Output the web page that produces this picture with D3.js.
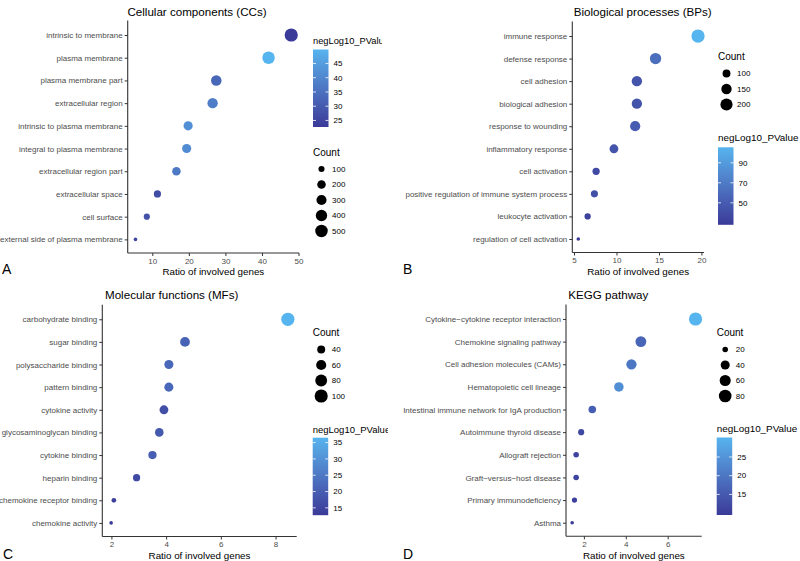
<!DOCTYPE html>
<html><head><meta charset="utf-8">
<script src="https://cdn.jsdelivr.net/npm/d3@7"></script>
<style>body{margin:0;background:#fff}svg{display:block;font-family:"Liberation Sans",Arial,sans-serif}</style>
</head><body><svg id="c" width="800" height="561"></svg>
<script>
// ---------- DATA ----------
const ccTerms = ["intrinsic to membrane","plasma membrane","plasma membrane part","extracellular region","intrinsic to plasma membrane","integral to plasma membrane","extracellular region part","extracellular space","cell surface","external side of plasma membrane"];
const ccRatio = [48.0,41.8,27.5,26.5,19.8,19.4,16.6,11.4,8.5,5.4];
const ccCount = [576,502,330,318,238,233,199,137,102,65];
const ccLogP  = [22.7,49.9,33,38,42,41,37,27,28,25];
const ccXTicks = [10,20,30,40,50];
const ccSizeBreaks = [100,200,300,400,500];
const ccColorBreaks = [25,30,35,40,45];

const bpTerms = ["immune response","defense response","cell adhesion","biological adhesion","response to wounding","inflammatory response","cell activation","positive regulation of immune system process","leukocyte activation","regulation of cell activation"];
const bpRatio = [19.6,14.6,12.4,12.4,12.2,9.7,7.6,7.4,6.6,5.5];
const bpCount = [235,175,149,149,146,116,91,89,79,66];
const bpLogP  = [105.5,62,45,45,50,45,38,42,33,28];
const bpXTicks = [5,10,15,20];
const bpSizeBreaks = [100,150,200];
const bpColorBreaks = [50,70,90];

const mfTerms = ["carbohydrate binding","sugar binding","polysaccharide binding","pattern binding","cytokine activity","glycosaminoglycan binding","cytokine binding","heparin binding","chemokine receptor binding","chemokine activity"];
const mfRatio = [8.45,4.69,4.10,4.10,3.92,3.75,3.50,2.92,2.09,1.99];
const mfCount = [101,56,49,49,47,45,42,35,25,24];
const mfLogP  = [36.5,21,22,22,17,19,20,16,14,12.75];
const mfXTicks = [2,4,6,8];
const mfSizeBreaks = [40,60,80,100];
const mfColorBreaks = [15,20,25,30,35];

const keggTerms = ["Cytokine\u2212cytokine receptor interaction","Chemokine signaling pathway","Cell adhesion molecules (CAMs)","Hematopoietic cell lineage","Intestinal immune network for IgA production","Autoimmune thyroid disease","Allograft rejection","Graft\u2212versus\u2212host disease","Primary immunodeficiency","Asthma"];
const keggRatio = [7.33,4.72,4.27,3.67,2.40,1.87,1.63,1.63,1.55,1.44];
const keggCount = [88,57,51,44,29,22,20,20,19,17];
const keggLogP  = [30.2,17,20,24,16,12,11,11,10.5,9.5];
const keggXTicks = [2,4,6];
const keggSizeBreaks = [20,40,60,80];
const keggColorBreaks = [15,20,25];

const titles = ["Cellular components (CCs)","Biological processes (BPs)","Molecular functions (MFs)","KEGG pathway"];
const letters = ["A","B","C","D"];
const xTitle = "Ratio of involved genes";
const colorTitle = "negLog10_PValue";
const sizeTitle = "Count";

// ---------- STYLE / LAYOUT ----------
const LOW = "#3A3A98", HIGH = "#56B4EE";
const RMIN = 1.8, RMAX = 6.6;
const svg = d3.select("#c");
const defs = svg.append("defs");

const panels = [
  {terms:ccTerms, ratio:ccRatio, count:ccCount, logp:ccLogP, xt:ccXTicks, sb:ccSizeBreaks, cb:ccColorBreaks,
   box:[0,0,382,280], x:[127.7,299], y:[21.4,253], title:[197,15.5], letter:[2,274], xty:274.5,
   lx:313, ctFont:9.3, colTitleY:44, barTop:49.5, sizeTitleY:155.5},
  {terms:bpTerms, ratio:bpRatio, count:bpCount, logp:bpLogP, xt:bpXTicks, sb:bpSizeBreaks, cb:bpColorBreaks,
   box:[400,0,400,280], x:[572.3,704], y:[22.5,252.5], title:[642.7,15.5], letter:[403,274], xty:274.5,
   lx:718, ctFont:9.9, colTitleY:141, barTop:147.3, sizeTitleY:60},
  {terms:mfTerms, ratio:mfRatio, count:mfCount, logp:mfLogP, xt:mfXTicks, sb:mfSizeBreaks, cb:mfColorBreaks,
   box:[0,280,388,281], x:[102.3,296.7], y:[305.7,536.5], title:[171.7,298.5], letter:[3,559], xty:558.5,
   lx:312.7, ctFont:9.5, colTitleY:432.5, barTop:437.7, sizeTitleY:336},
  {terms:keggTerms, ratio:keggRatio, count:keggCount, logp:keggLogP, xt:keggXTicks, sb:keggSizeBreaks, cb:keggColorBreaks,
   box:[400,280,400,281], x:[566,701.7], y:[305.4,536.3], title:[608.3,298.5], letter:[403,559], xty:558.5,
   lx:716.7, ctFont:9.9, colTitleY:431.5, barTop:437.5, sizeTitleY:336}
];

panels.forEach((p,i)=>{
  const cid = "clip"+i;
  defs.append("clipPath").attr("id",cid).append("rect")
    .attr("x",p.box[0]).attr("y",p.box[1]).attr("width",p.box[2]).attr("height",p.box[3]);
  const g = svg.append("g").attr("clip-path",`url(#${cid})`);

  const [rmin,rmax] = d3.extent(p.ratio);
  const pad = (rmax-rmin)*0.05;
  const xs = d3.scaleLinear().domain([rmin-pad, rmax+pad]).range(p.x);
  const ys = d3.scalePoint().domain(p.terms).range(p.y).padding(0.6);
  const cs = d3.scaleLinear().domain(d3.extent(p.logp)).range([LOW,HIGH]).interpolate(d3.interpolateLab);
  const unit = d3.scaleLinear().domain(d3.extent(p.count)).range([0,1]);
  const rsq = d3.scaleSqrt().domain([0,1]).range([RMIN,RMAX]);
  const rs = v => rsq(Math.max(0,unit(v)));

  // axes
  const xAxis = d3.axisBottom(xs).tickValues(p.xt).tickFormat(d3.format("d")).tickSizeOuter(0).tickSize(3).tickPadding(2);
  const gx = g.append("g").attr("transform",`translate(0,${p.y[1]})`).call(xAxis);
  const yAxis = d3.axisLeft(ys).tickSizeOuter(0).tickSize(3).tickPadding(2);
  const gy = g.append("g").attr("transform",`translate(${p.x[0]},0)`).call(yAxis);
  [gx,gy].forEach(a=>{
    a.select(".domain").attr("stroke","#333").attr("stroke-width",1.1);
    a.selectAll(".tick line").attr("stroke","#333");
    a.selectAll(".tick text").attr("fill","#4D4D4D").style("font-size","8px");
  });
  gy.select(".domain").attr("d",`M0,${p.y[0]-1}V${p.y[1]}`);
  gx.select(".domain").attr("d",`M${p.x[0]},0H${p.x[1]}`);
  gx.selectAll(".tick text").attr("dy","0.72em");

  // points
  const idx = d3.range(p.terms.length).sort((a,b)=>p.count[b]-p.count[a]);
  g.append("g").selectAll("circle").data(idx).join("circle")
    .attr("cx",j=>xs(p.ratio[j])).attr("cy",j=>ys(p.terms[j]))
    .attr("r",j=>rs(p.count[j])).attr("fill",j=>cs(p.logp[j]));

  // titles
  g.append("text").attr("x",p.title[0]).attr("y",p.title[1]).attr("text-anchor","middle")
    .style("font-size","11.6px").attr("fill","#000").text(titles[i]);
  g.append("text").attr("x",(p.x[0]+p.x[1])/2).attr("y",p.xty).attr("text-anchor","middle")
    .style("font-size","9.8px").attr("fill","#000").text(xTitle);
  g.append("text").attr("x",p.letter[0]).attr("y",p.letter[1])
    .style("font-size","14px").attr("fill","#000").text(letters[i]);

  // colour legend
  const barH = 77.5, barW = 15.5;
  const gid = "grad"+i;
  const grad = defs.append("linearGradient").attr("id",gid).attr("x1",0).attr("y1",1).attr("x2",0).attr("y2",0);
  const [c0,c1] = cs.domain();
  d3.range(0,1.0001,0.1).forEach(t=>{
    grad.append("stop").attr("offset",t).attr("stop-color",cs(c0+t*(c1-c0)));
  });
  g.append("text").attr("x",p.lx).attr("y",p.colTitleY).style("font-size",p.ctFont+"px").attr("fill","#000").text(colorTitle);
  g.append("rect").attr("x",p.lx).attr("y",p.barTop).attr("width",barW).attr("height",barH).attr("fill",`url(#${gid})`);
  const by = d3.scaleLinear().domain(cs.domain()).range([p.barTop+barH,p.barTop]);
  p.cb.forEach(b=>{
    const yy = by(b);
    g.append("line").attr("x1",p.lx).attr("x2",p.lx+3).attr("y1",yy).attr("y2",yy).attr("stroke","#fff").attr("stroke-opacity",0.8);
    g.append("line").attr("x1",p.lx+barW-3).attr("x2",p.lx+barW).attr("y1",yy).attr("y2",yy).attr("stroke","#fff").attr("stroke-opacity",0.8);
    g.append("text").attr("x",p.lx+barW+5).attr("y",yy).attr("dy","0.35em").style("font-size","8px").attr("fill","#000").text(b);
  });

  // size legend
  g.append("text").attr("x",p.lx).attr("y",p.sizeTitleY).style("font-size","10px").attr("fill","#000").text(sizeTitle);
  p.sb.forEach((b,k)=>{
    const yy = p.sizeTitleY + 13.5 + k*15.5;
    g.append("circle").attr("cx",p.lx+8.5).attr("cy",yy).attr("r",rs(b)).attr("fill","#000");
    g.append("text").attr("x",p.lx+19).attr("y",yy).attr("dy","0.35em").style("font-size","8px").attr("fill","#000").text(b);
  });
});
</script></body></html>
